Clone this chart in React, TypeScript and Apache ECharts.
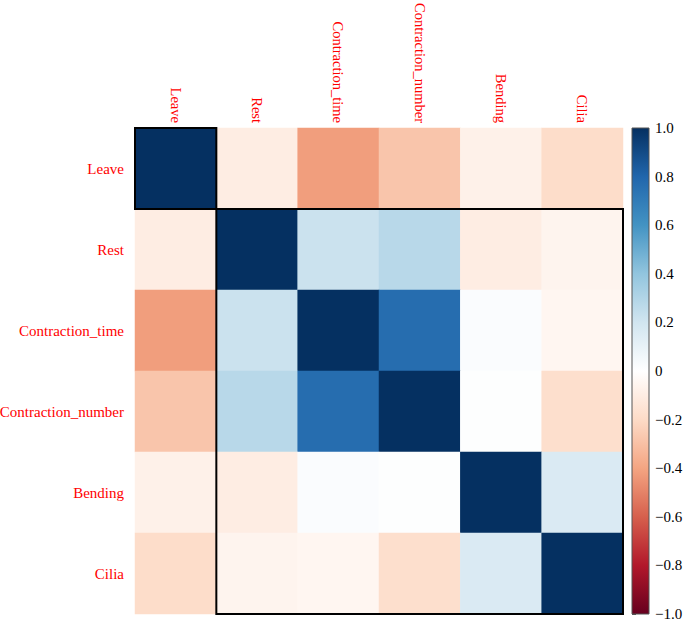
import React, { useEffect, useRef } from "react";
import * as echarts from "echarts";

const variables = ["Leave", "Rest", "Contraction_time", "Contraction_number", "Bending", "Cilia"];

// correlation matrix rows
const corrLeave = [1, -0.1, -0.42, -0.28, -0.08, -0.19];
const corrRest = [-0.1, 1, 0.22, 0.28, -0.1, -0.06];
const corrContractionTime = [-0.42, 0.22, 1, 0.77, 0.02, -0.05];
const corrContractionNumber = [-0.28, 0.28, 0.77, 1, 0.01, -0.18];
const corrBending = [-0.08, -0.1, 0.02, 0.01, 1, 0.16];
const corrCilia = [-0.19, -0.06, -0.05, -0.18, 0.16, 1];

const corrRows = [corrLeave, corrRest, corrContractionTime, corrContractionNumber, corrBending, corrCilia];

const palette = [
  "#67001F", "#B2182B", "#D6604D", "#F4A582", "#FDDBC7", "#FFFFFF",
  "#D1E5F0", "#92C5DE", "#4393C3", "#2166AC", "#053061",
];

// hclust clusters (index ranges)
const clusters = [
  [0, 0],
  [1, 5],
];

export default function App() {
  const ref = useRef<HTMLDivElement>(null);
  useEffect(() => {
    document.body.style.margin = "0";
    if (!ref.current) return;
    const chart = echarts.init(ref.current, undefined, { renderer: "svg" });
    const data: [number, number, number][] = [];
    corrRows.forEach((row, i) => row.forEach((v, j) => data.push([j, i, v])));

    const font = "'Liberation Serif', 'DejaVu Serif', serif";
    const gLeft = 135, gTop = 128, gW = 488, gH = 486;
    const cbLeft = 632, cbW = 17;

    chart.setOption({
      animation: false,
      backgroundColor: "#ffffff",
      grid: [
        { left: gLeft, top: gTop, width: gW, height: gH, outerBoundsMode: "none", containLabel: false },
        { left: cbLeft, top: gTop, width: cbW, height: gH, outerBoundsMode: "none", containLabel: false },
      ],
      xAxis: [
        {
          type: "category",
          data: variables,
          position: "top",
          gridIndex: 0,
          axisLine: { show: false },
          axisTick: { show: false },
          axisLabel: { rotate: 90, color: "#ff0000", fontFamily: font, fontSize: 14.5, margin: 5, interval: 0 },
        },
        { type: "value", gridIndex: 1, show: false, min: 0, max: 1 },
      ],
      yAxis: [
        {
          type: "category",
          data: variables,
          inverse: true,
          gridIndex: 0,
          axisLine: { show: false },
          axisTick: { show: false },
          axisLabel: { color: "#ff0000", fontFamily: font, fontSize: 15, margin: 11, interval: 0 },
        },
        {
          type: "value",
          gridIndex: 1,
          position: "right",
          min: -1,
          max: 1,
          interval: 0.2,
          splitLine: { show: false },
          axisLine: { show: false },
          axisTick: { show: true, length: 4, lineStyle: { color: "#555555" } },
          axisLabel: {
            color: "#000000",
            fontFamily: font,
            fontSize: 15,
            margin: 6,
            formatter: (v: number) => {
              const r = Math.round(v * 10) / 10;
              if (r === 0) return "0";
              return r.toFixed(1).replace("-", "\u2212");
            },
          },
        },
      ],
      visualMap: {
        show: false,
        min: -1,
        max: 1,
        seriesIndex: 0,
        inRange: { color: palette },
      },
      series: [
        {
          type: "heatmap",
          xAxisIndex: 0,
          yAxisIndex: 0,
          data,
          itemStyle: { borderWidth: 0 },
          emphasis: { disabled: true },
        },
      ],
    });

    const graphics: any[] = [];
    clusters.forEach(([a, b]) => {
      const p1 = chart.convertToPixel({ gridIndex: 0 }, [a, a]) as number[];
      const p2 = chart.convertToPixel({ gridIndex: 0 }, [b, b]) as number[];
      const cw = gW / variables.length;
      const ch = gH / variables.length;
      const x0 = p1[0] - cw / 2, y0 = p1[1] - ch / 2;
      const x1 = p2[0] + cw / 2, y1 = p2[1] + ch / 2;
      graphics.push({
        type: "rect",
        shape: { x: x0, y: y0, width: x1 - x0, height: y1 - y0 },
        style: { fill: "none", stroke: "#000000", lineWidth: 2 },
        z: 10,
      });
    });
    const top = chart.convertToPixel({ yAxisIndex: 1 }, 1) as unknown as number;
    const bot = chart.convertToPixel({ yAxisIndex: 1 }, -1) as unknown as number;
    graphics.push({
      type: "rect",
      shape: { x: cbLeft, y: top, width: cbW, height: bot - top },
      style: {
        fill: {
          type: "linear", x: 0, y: 0, x2: 0, y2: 1,
          colorStops: palette.slice().reverse().map((c, i) => ({ offset: i / (palette.length - 1), color: c })),
        },
        stroke: "#555555",
        lineWidth: 1,
      },
      z: 5,
    });
    chart.setOption({ graphic: graphics });
    return () => chart.dispose();
  }, []);
  return <div ref={ref} style={{ width: 684, height: 626 }} />;
}
